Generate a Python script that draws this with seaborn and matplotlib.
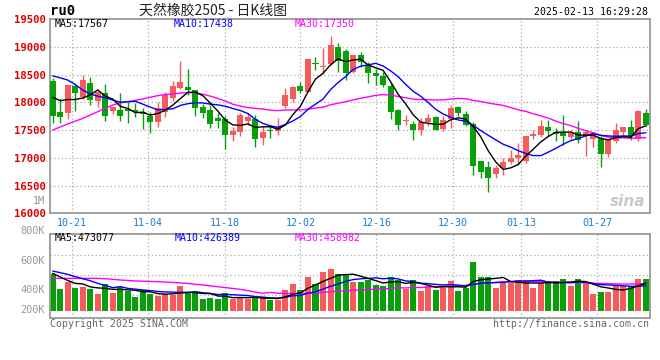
import numpy as np
import pandas as pd
import matplotlib
matplotlib.use("Agg")
import matplotlib.pyplot as plt
import seaborn as sns

# daily candles (16 Oct 2024 .. 13 Feb 2025)
opens = [18382, 17830, 17800, 18290, 18100, 18350, 18030, 18165, 17845, 17860,
         17880, 17860, 17820, 17750, 17650, 17830, 18070, 18250, 18280, 18220,
         17910, 17860, 17715, 17695, 17405, 17458, 17654, 17696, 17356, 17490,
         17475, 17934, 18060, 18291, 18190, 18713, 18636, 18684, 18993, 18916,
         18547, 18844, 18666, 18529, 18475, 18291, 17862, 17654, 17607, 17494,
         17643, 17732, 17524, 17702, 17922, 17791, 17607, 16940, 16839, 16702,
         16821, 16922, 16988, 16940, 17399, 17405, 17547, 17458, 17446, 17369,
         17458, 17387, 17330, 17357, 17071, 17297, 17458, 17547, 17339, 17815]
highs = [18430, 18050, 18320, 18330, 18490, 18460, 18200, 18330, 17920, 18170,
         18010, 17980, 17900, 17830, 18010, 18190, 18386, 18740, 18600, 18230,
         17970, 17950, 17800, 17745, 17560, 17803, 17803, 17773, 17565, 17565,
         17713, 18250, 18300, 18370, 18790, 18815, 18975, 19200, 19070, 18951,
         18856, 18904, 18725, 18606, 18547, 18340, 17870, 17773, 17655, 17714,
         17791, 17744, 17744, 17952, 17940, 17851, 17643, 16945, 16940, 16863,
         17000, 17149, 17268, 17390, 17506, 17684, 17672, 17540, 17774, 17506,
         17655, 17476, 17470, 17387, 17345, 17625, 17560, 17684, 17855, 17880]
lows = [17632, 17620, 17690, 17840, 18060, 17950, 17910, 17670, 17790, 17655,
        17620, 17740, 17510, 17450, 17560, 17740, 18030, 18240, 18130, 17745,
        17725, 17535, 17535, 17160, 17300, 17386, 17594, 17190, 17225, 17356,
        17416, 17890, 18000, 18160, 18180, 18577, 18517, 18680, 18547, 18398,
        18530, 18636, 18356, 18309, 18279, 17696, 17505, 17594, 17327, 17416,
        17565, 17494, 17476, 17536, 17744, 17565, 16684, 16643, 16375, 16643,
        16684, 16881, 16863, 16898, 17330, 17380, 17387, 17300, 17238, 17330,
        17268, 17041, 17200, 16839, 17012, 17268, 17416, 17327, 17297, 17577]
closes = [17758, 17740, 18310, 18172, 18400, 18040, 18190, 17752, 17910, 17745,
          17840, 17820, 17790, 17650, 17890, 18130, 18290, 18370, 18220, 17900,
          17815, 17610, 17655, 17405, 17475, 17773, 17743, 17338, 17463, 17478,
          17553, 18130, 18280, 18202, 18785, 18690, 18654, 19040, 18743, 18529,
          18844, 18725, 18529, 18475, 18309, 17820, 17594, 17666, 17494, 17637,
          17714, 17506, 17672, 17893, 17815, 17595, 16851, 16744, 16631, 16809,
          16922, 16988, 17042, 17387, 17434, 17577, 17476, 17428, 17387, 17446,
          17315, 17458, 17440, 17071, 17339, 17506, 17547, 17387, 17851, 17595]
volumes = [631, 373, 499, 390, 413, 373, 287, 459, 304, 408,
           339, 236, 356, 287, 253, 287, 270, 425, 322, 322,
           201, 218, 201, 304, 194, 218, 201, 236, 236, 184,
           184, 356, 459, 356, 580, 459, 666, 717, 631, 631,
           494, 494, 528, 442, 425, 580, 528, 373, 528, 339,
           425, 356, 425, 511, 339, 390, 838, 580, 580, 390,
           476, 476, 528, 511, 390, 476, 511, 511, 545, 425,
           545, 476, 287, 322, 322, 425, 425, 425, 545, 545]
volumes = [v * 1000 for v in volumes]

# moving averages before a full window is visible
ma5_head = [18088, 18030, 18050, 18050]
ma10_head = [18475, 18440, 18400, 18320, 18220, 18150, 18110, 18080, 18040]
ma30_head = [17500, 17555, 17610, 17660, 17710, 17770, 17830, 17890, 17950, 17990,
             18010, 18035, 18060, 18090, 18120, 18140, 18150, 18165, 18175, 18170,
             18145, 18110, 18070, 18020, 17965, 17930, 17905, 17890, 17878]
vma5_head = [642000, 580000, 520000, 470000]
vma10_head = [682000, 654000, 625000, 585000, 550000, 516000, 470000, 435000, 396000]
vma30_head = [556000, 556000, 556000, 556000, 556000, 556000, 556000, 550000, 540000, 528000,
              520000, 512000, 508000, 503000, 498000, 493000, 486000, 478000, 468000, 455000,
              442000, 428000, 412000, 398000, 382000, 367000, 345000, 320000, 300000]

date_labels = ["10-21", "11-04", "11-18", "12-02", "12-16", "12-30", "01-13", "01-27"]
date_ticks = [2.6, 12.7, 22.9, 33.0, 43.1, 53.3, 62.4, 72.5]
price_ticks = [16000, 16500, 17000, 17500, 18000, 18500, 19000, 19500]
vol_labels = ["1M", "800K", "600K", "400K", "200K"]
vol_label_y = [201, 231, 261, 290, 310]   # pixel rows of the labels
vol_grid = [958000, 614000, 270000]

RED = "#f65a5a"
GREEN = "#08a008"
GRID = "#aaaaaa"
FRAME = "#999999"
MONO = "DejaVu Sans Mono"


def moving(values, n, head):
    s = pd.Series(values, dtype=float).rolling(n).mean()
    s.iloc[:len(head)] = head
    return s


sns.set_style("white")
plt.rcParams["font.family"] = ["DejaVu Sans"]

idx = np.arange(len(closes))
o = np.array(opens)
c = np.array(closes)
colors = [RED if c[i] >= o[i] else GREEN for i in idx]

W, H = 660, 360
fig = plt.figure(figsize=(6.6, 3.6), dpi=100)
ax = fig.add_axes([50 / W, 1 - 213.3 / H, 600 / W, 194.3 / H])
ax2 = fig.add_axes([50 / W, 1 - 318 / H, 600 / W, 84 / H])

# price panel
for y in price_ticks[1:-1]:
    ax.axhline(y, color=GRID, lw=0.9, ls=(0, (1, 2)), zorder=0)
for x in date_ticks:
    ax.axvline(x, color=GRID, lw=0.9, ls=(0, (1, 2)), zorder=0)
    ax2.axvline(x, color=GRID, lw=0.9, ls=(0, (1, 2)), zorder=0)

ax.vlines(idx, lows, highs, colors=colors, lw=1.0, zorder=2)
body = np.maximum(np.abs(c - o), 18)
ax.bar(idx, body, bottom=np.minimum(o, c), width=0.8, color=colors, lw=0, zorder=3)

ma_df = pd.DataFrame({
    "i": idx,
    "ma5": moving(closes, 5, ma5_head),
    "ma10": moving(closes, 10, ma10_head),
    "ma30": moving(closes, 30, ma30_head),
})
sns.lineplot(data=ma_df, x="i", y="ma30", ax=ax, color="#ff00ff", lw=1.0, zorder=4)
sns.lineplot(data=ma_df, x="i", y="ma10", ax=ax, color="#0000ff", lw=1.0, zorder=5)
sns.lineplot(data=ma_df, x="i", y="ma5", ax=ax, color="black", lw=1.0, zorder=6)

ax.set_xlim(-0.36, 79.55)
ax.set_ylim(16000, 19500)
ax.set_yticks(price_ticks)
ax.set_yticklabels([str(p) for p in price_ticks], color="#e00000",
                   fontsize=7.7, family=MONO, fontweight="bold")
ax.set_xticks(date_ticks)
ax.set_xticklabels(date_labels, color="#1a7fd0", fontsize=7.2, family=MONO)
ax.tick_params(length=0, pad=3.2)
ax.set_xlabel("")
ax.set_ylabel("")

# volume panel
for y in vol_grid:
    ax2.axhline(y, color=GRID, lw=0.9, ls=(0, (1, 2)), zorder=0)
ax2.bar(idx, volumes, width=0.8, color=colors, lw=0, zorder=2)
vol_df = pd.DataFrame({
    "i": idx,
    "v5": moving(volumes, 5, vma5_head),
    "v10": moving(volumes, 10, vma10_head),
    "v30": moving(volumes, 30, vma30_head),
})
sns.lineplot(data=vol_df, x="i", y="v30", ax=ax2, color="#ff00ff", lw=1.0, zorder=4)
sns.lineplot(data=vol_df, x="i", y="v10", ax=ax2, color="#0000ff", lw=1.0, zorder=5)
sns.lineplot(data=vol_df, x="i", y="v5", ax=ax2, color="black", lw=1.0, zorder=6)
ax2.set_xlim(-0.36, 79.55)
ax2.set_ylim(-125560, 1319240)
ax2.set_xticks([])
ax2.set_yticks([])
ax2.set_xlabel("")
ax2.set_ylabel("")

for a in (ax, ax2):
    for s in a.spines.values():
        s.set_color(FRAME)
        s.set_linewidth(1.3)


def px_text(x, y, s, **kw):
    fig.text(x / W, 1 - y / H, s, va="center", **kw)


for lab, y in zip(vol_labels, vol_label_y):
    px_text(45, y, lab, ha="right", color="#999999", fontsize=7.4, family=MONO)

px_text(50, 11, "ru0", ha="left", color="black", fontsize=10, family=MONO, fontweight="bold")
px_text(213, 11, "天然橡胶2505 - 日K线图", ha="center", color="#222222", fontsize=10,
        family=["Noto Sans CJK SC", "DejaVu Sans"])
px_text(648, 12, "2025-02-13 16:29:28", ha="right", color="black", fontsize=7.1, family=MONO)

px_text(55, 24, "MA5:17567", ha="left", color="black", fontsize=7.1, family=MONO)
px_text(174, 24, "MA10:17438", ha="left", color="#0000ff", fontsize=7.1, family=MONO)
px_text(295, 24, "MA30:17350", ha="left", color="#ff00ff", fontsize=7.1, family=MONO)
px_text(55, 238, "MA5:473077", ha="left", color="black", fontsize=7.1, family=MONO)
px_text(175, 238, "MA10:426389", ha="left", color="#0000ff", fontsize=7.1, family=MONO)
px_text(295, 238, "MA30:458982", ha="left", color="#ff00ff", fontsize=7.1, family=MONO)

px_text(50, 324, "Copyright 2025 SINA.COM", ha="left", color="#666666", fontsize=7.1, family=MONO)
px_text(649, 324, "http://finance.sina.com.cn", ha="right", color="#666666", fontsize=7.1, family=MONO)
px_text(628, 201, "sina", ha="center", color="#bbbbbb", fontsize=11, fontweight="bold",
        style="italic", alpha=0.8)

fig.savefig("out.png", dpi=100)
